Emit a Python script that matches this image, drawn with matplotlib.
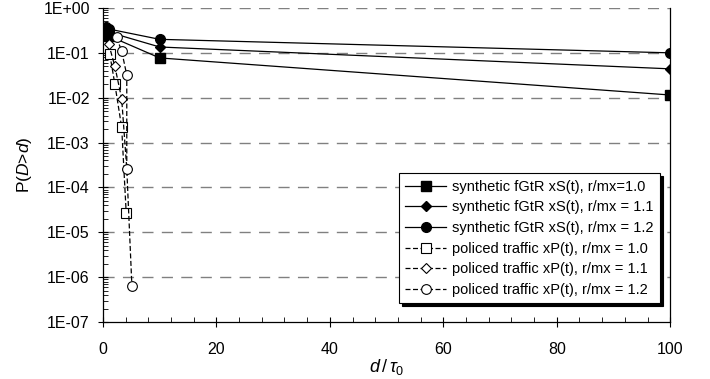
import matplotlib.pyplot as plt
from matplotlib.ticker import MultipleLocator, LogLocator, FixedLocator, NullFormatter

plt.rcParams['font.family'] = ['Liberation Sans', 'DejaVu Sans']
plt.rcParams['mathtext.fontset'] = 'custom'
plt.rcParams['mathtext.it'] = 'Liberation Sans:italic'
plt.rcParams['mathtext.rm'] = 'Liberation Sans'

# synthetic fGtR xS(t)
syn_x = [0.5, 1, 10, 100]
syn_10 = [0.27, 0.24, 0.077, 0.0115]
syn_11 = [0.32, 0.29, 0.135, 0.044]
syn_12 = [0.38, 0.34, 0.20, 0.10]

# policed traffic xP(t)
pol_10_x = [1.2, 2.1, 3.3, 4.1]
pol_10 = [0.094, 0.020, 0.0022, 2.7e-5]
pol_11_x = [1.0, 2.1, 3.3, 4.2]
pol_11 = [0.16, 0.050, 0.0095, 2.6e-4]
pol_12_x = [2.4, 3.3, 4.2, 4.2, 5.1]
pol_12 = [0.22, 0.11, 0.032, 2.6e-4, 6.5e-7]

labels = ['synthetic fGtR xS(t), r/mx=1.0',
          'synthetic fGtR xS(t), r/mx = 1.1',
          'synthetic fGtR xS(t), r/mx = 1.2',
          'policed traffic xP(t), r/mx = 1.0',
          'policed traffic xP(t), r/mx = 1.1',
          'policed traffic xP(t), r/mx = 1.2']

fig = plt.figure(figsize=(7.1, 3.79), dpi=100)
ax = fig.add_axes([0.145, 0.150, 0.799, 0.829])

ax.plot(syn_x, syn_10, '-', color='black', lw=0.9, marker='s', ms=7, label=labels[0])
ax.plot(syn_x, syn_11, '-', color='black', lw=0.9, marker='D', ms=5.5, label=labels[1])
ax.plot(syn_x, syn_12, '-', color='black', lw=0.9, marker='o', ms=7, label=labels[2])
ax.plot(pol_10_x, pol_10, '--', color='black', lw=0.9, marker='s', ms=6.5,
        mfc='white', mew=0.8, dashes=(4, 2), label=labels[3])
ax.plot(pol_11_x, pol_11, '--', color='black', lw=0.9, marker='D', ms=5.5,
        mfc='white', mew=0.8, dashes=(4, 2), label=labels[4])
ax.plot(pol_12_x, pol_12, '--', color='black', lw=0.9, marker='o', ms=7,
        mfc='white', mew=0.8, dashes=(4, 2), label=labels[5])

ax.set_yscale('log')
ax.set_ylim(1e-7, 1)
ax.set_xlim(0, 100)

ax.xaxis.set_major_locator(MultipleLocator(20))
ax.xaxis.set_minor_locator(MultipleLocator(4))
ax.yaxis.set_major_locator(FixedLocator([10.0 ** k for k in range(-7, 1)]))
ax.yaxis.set_minor_locator(LogLocator(base=10, subs=range(2, 10), numticks=20))
ax.yaxis.set_minor_formatter(NullFormatter())
ax.set_yticklabels(['1E-07', '1E-06', '1E-05', '1E-04', '1E-03', '1E-02', '1E-01', '1E+00'])

ax.tick_params(which='major', direction='inout', length=7, width=0.8, labelsize=11.5, pad=6)
ax.tick_params(axis='x', which='major', pad=11)
ax.tick_params(which='minor', direction='in', length=3.5, width=0.6)

for k in range(-6, 1):
    ax.axhline(10.0 ** k, color='#808080', lw=1, dashes=(8, 6), zorder=0)

ax.spines['top'].set_visible(False)
for s in ['left', 'right', 'bottom']:
    ax.spines[s].set_linewidth(0.9)

ax.set_xlabel(r'$d\,/\,\tau_0$', fontsize=13, labelpad=0)
ax.set_ylabel(r'P($D$>$d$)', fontsize=12.5, labelpad=7)

leg = ax.legend(loc='lower right', bbox_to_anchor=(0.982, 0.06), fontsize=10.5,
                frameon=True, fancybox=False, shadow={'color': 'black', 'alpha': 1},
                edgecolor='black', framealpha=1, handlelength=2.8, handletextpad=0.4,
                borderaxespad=0, labelspacing=0.45, borderpad=0.45)
leg.get_frame().set_linewidth(0.8)

fig.savefig('out.png', dpi=100)
